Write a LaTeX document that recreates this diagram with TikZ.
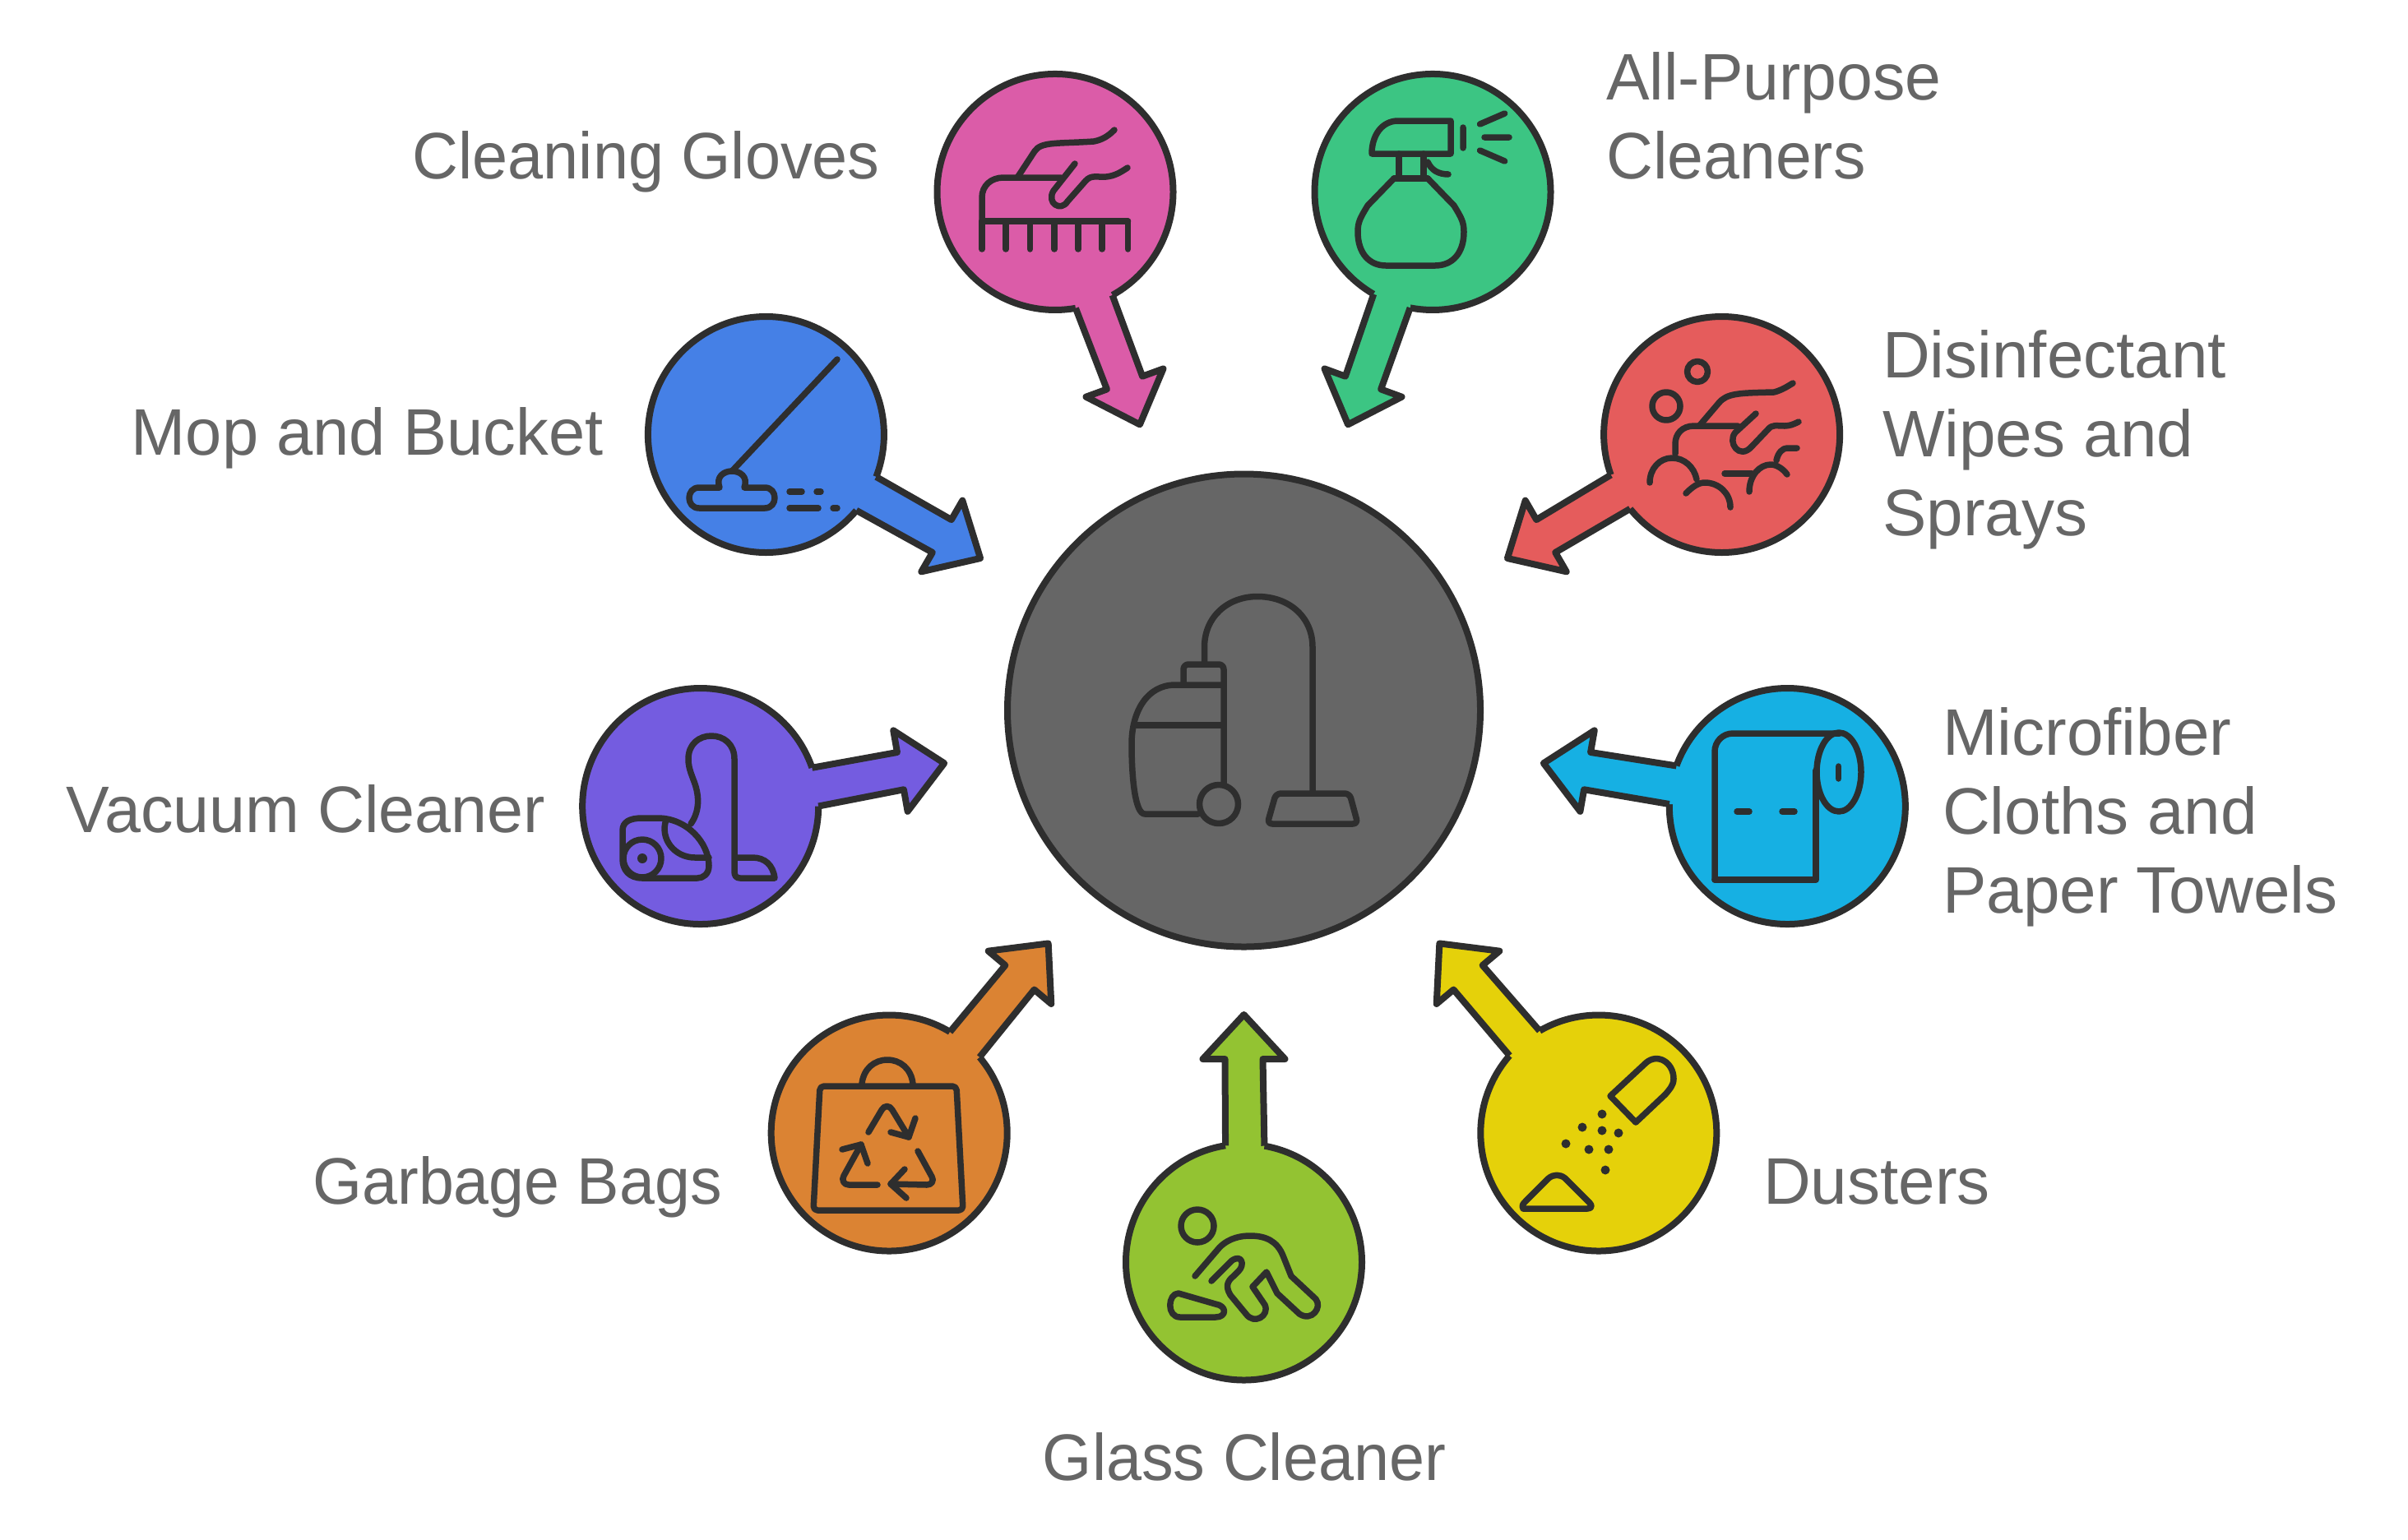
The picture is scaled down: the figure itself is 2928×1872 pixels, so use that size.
\documentclass[tikz,border=0pt]{standalone}
\usepackage{fontspec}
\setmainfont{Liberation Sans}
\definecolor{ink}{RGB}{46,46,46}
\definecolor{hubgray}{RGB}{102,102,102}
\definecolor{labelgray}{RGB}{102,102,102}
\definecolor{glovesfill}{RGB}{219,92,168}
\definecolor{cleanersfill}{RGB}{60,197,131}
\definecolor{wipesfill}{RGB}{229,92,92}
\definecolor{clothsfill}{RGB}{22,176,227}
\definecolor{dustersfill}{RGB}{229,209,10}
\definecolor{glassfill}{RGB}{147,195,50}
\definecolor{bagsfill}{RGB}{219,131,51}
\definecolor{vacuumfill}{RGB}{116,92,224}
\definecolor{mopfill}{RGB}{69,128,230}
\tikzset{
  spot/.style={circle,draw=ink,line width=8pt,minimum size=287pt,inner sep=0pt,outer sep=0pt},
  spokeline/.style={draw=ink,line width=8pt,line join=round},
  icon/.style={draw=ink,line width=7.5pt,line cap=round,line join=round},
  label/.style={text=labelgray,font=\fontsize{80}{96}\selectfont\addfontfeature{FakeStretch=#1},inner sep=0pt,align=left},
  label/.default=1
}
\newcommand{\spoke}[3]{%
  \pgfmathsetmacro{\spokeup}{#2+9.2}%
  \pgfmathsetmacro{\spokedn}{#2-9.2}%
  \begin{scope}[shift={(#1)},rotate=#2,y=1pt]
    \coordinate (#1Tip) at (301,0);
    \fill[#3] (#1.\spokeup) -- (247,23) -- (247,50) -- (#1Tip) -- (247,-50) -- (247,-23) -- (#1.\spokedn) -- (#1.center) -- cycle;
    \draw[spokeline] (#1.\spokeup) -- (247,23) -- (247,50) -- (#1Tip) -- (247,-50) -- (247,-23) -- (#1.\spokedn);
  \end{scope}}
\begin{document}
\begin{tikzpicture}[x=1pt,y=-1pt]
    \useasboundingbox (0,0) rectangle (2928,1872);
    \node [spot,fill=hubgray,minimum size=575pt] (hub) at (1512.5,864) {};

    \node [spot,fill=glovesfill] (gloves) at ([shift={(110:671pt)}]hub) {};
    \node [spot,fill=cleanersfill] (cleaners) at ([shift={(70:671pt)}]hub) {};
    \node [spot,fill=wipesfill] (wipes) at ([shift={(30:671pt)}]hub) {};
    \node [spot,fill=clothsfill] (cloths) at ([shift={(350:671pt)}]hub) {};
    \node [spot,fill=dustersfill] (dusters) at ([shift={(310:671pt)}]hub) {};
    \node [spot,fill=glassfill] (glass) at ([shift={(270:671pt)}]hub) {};
    \node [spot,fill=bagsfill] (bags) at ([shift={(230:671pt)}]hub) {};
    \node [spot,fill=vacuumfill] (vacuum) at ([shift={(190:671pt)}]hub) {};
    \node [spot,fill=mopfill] (mop) at ([shift={(150:671pt)}]hub) {};

    \spoke{gloves}{290}{glovesfill}
    \spoke{cleaners}{250}{cleanersfill}
    \spoke{wipes}{210}{wipesfill}
    \spoke{cloths}{170}{clothsfill}
    \spoke{dusters}{130}{dustersfill}
    \spoke{glass}{90}{glassfill}
    \spoke{bags}{50}{bagsfill}
    \spoke{vacuum}{10}{vacuumfill}
    \spoke{mop}{330}{mopfill}

    \node [label=0.968,anchor=base east] (glovesText) at (1070,217) {Cleaning Gloves};
    \node [label=0.985,anchor=west] (cleanersText) at (1953,141) {All-Purpose\\Cleaners};
    \node [label,anchor=west] (wipesText) at (2289,534.5) {Disinfectant\\Wipes and\\Sprays};
    \node [label,anchor=west] (clothsText) at (2362,993.5) {Microfiber\\Cloths and\\Paper Towels};
    \node [label,anchor=base west] (dustersText) at (2144,1464) {Dusters};
    \node [label=0.967,anchor=base] (glassText) at (1513,1800) {Glass Cleaner};
    \node [label=0.964,anchor=base east] (bagsText) at (878,1464) {Garbage Bags};
    \node [label=0.987,anchor=base east] (vacuumText) at (663,1012) {Vacuum Cleaner};
    \node [label=0.993,anchor=base east] (mopText) at (734,553) {Mop and Bucket};

    \draw [icon] (1464.5,808) -- (1464.5,787) .. controls (1464.5,750) and (1493,725.5) .. (1529,725.5) .. controls (1567,725.5) and (1596,750) .. (1596,787) -- (1596,965);
    \draw [icon,rounded corners=6pt] (1439,833) -- (1439,808) -- (1488,808) -- (1488,953);
    \draw [icon] (1488,833) -- (1429,833) .. controls (1395,833) and (1376,865) .. (1376,905) .. controls (1376,945) and (1380,990) .. (1392,990) -- (1457,990);
    \draw [icon] (1382,882) -- (1488,882);
    \draw [icon] (1482,978) circle [radius=23.5pt];
    \draw [icon,rounded corners=6pt] (1551.5,965) -- (1641,965) -- (1651,1002) -- (1541,1002) -- cycle;

    \draw [icon] (1194,269) -- (1371.5,269);
    \draw [icon] (1194,269) -- (1194,303) (1223,269) -- (1223,303) (1252.5,269) -- (1252.5,303) (1282,269) -- (1282,303) (1311,269) -- (1311,303) (1340,269) -- (1340,303) (1371.5,269) -- (1371.5,303);
    \draw [icon] (1194,269) -- (1194,240) .. controls (1194,226) and (1205,216) .. (1220,216) -- (1290,216);
    \draw [icon] (1237,216) -- (1258,184) .. controls (1266,172) and (1285,175) .. (1330,172) .. controls (1340,170) and (1347,166) .. (1355,158);
    \draw [icon] (1307,199) -- (1281,232) .. controls (1272,247) and (1290,258) .. (1298,245) -- (1320,220) .. controls (1327,212) and (1335,216) .. (1345,215) .. controls (1355,214) and (1362,210) .. (1371,204);

    \draw [icon] (1668,187) .. controls (1668,165) and (1680,147) .. (1700,147) -- (1764,147) -- (1764,187) -- cycle;
    \draw [icon] (1701,187) -- (1701,217) (1731,187) -- (1731,217) (1695,217) -- (1736,217);
    \draw [icon] (1736,197) .. controls (1740,206) and (1748,212) .. (1761,212);
    \draw [icon] (1695,217) -- (1663,250) .. controls (1654,265) and (1651,270) .. (1651,282) .. controls (1651,308) and (1665,323) .. (1685,323) -- (1745,323) .. controls (1766,323) and (1780,308) .. (1780,282) .. controls (1780,270) and (1777,265) .. (1768,250) -- (1736,217);
    \draw [icon] (1779,155) -- (1779,180) (1799.5,151) -- (1829.6,138) (1805,167) -- (1835,167) (1799.5,183) -- (1829.6,196);

    \draw [icon] (2026,494) circle [radius=17pt];
    \draw [icon] (2064,452) circle [radius=12.5pt];
    \draw [icon] (2067,517) -- (2090,490) .. controls (2100,478) and (2115,478) .. (2157,477) .. controls (2165,475) and (2172,471) .. (2180,466);
    \draw [icon] (2037,552) -- (2037,540) .. controls (2037,528) and (2045,518) .. (2060,518) -- (2113,518);
    \draw [icon] (2135,503) -- (2110,526) .. controls (2100,538) and (2115,560) .. (2130,543) -- (2150,522) .. controls (2155,516) and (2160,518) .. (2170,518) .. controls (2176,518) and (2181,516) .. (2187,513);
    \draw [icon] (2006,587) .. controls (2006,570) and (2018,557) .. (2033,557) .. controls (2048,557) and (2060,568) .. (2063,583);
    \draw [icon] (2050,600) .. controls (2058,592) and (2065,587) .. (2073,587) .. controls (2090,587) and (2104,600) .. (2104,617);
    \draw [icon] (2097,576) -- (2130,576);
    \draw [icon] (2127,598) .. controls (2127,578) and (2140,565) .. (2153,565) .. controls (2160,565) and (2168,570) .. (2173,577);
    \draw [icon] (2160,560) .. controls (2162,550) and (2168,545) .. (2173,545) -- (2185,545);

    \draw [icon,rounded corners=22pt] (2085,1070) -- (2085,892) -- (2237,892);
    \draw [icon] (2085,1070) -- (2208,1070) -- (2208,937);
    \draw [icon] (2236,939) ellipse [x radius=27pt,y radius=48pt];
    \draw [icon] (2235.7,932) -- (2235.7,947) (2112,987) -- (2127,987) (2167,987) -- (2182,987);

    \draw [icon] (1958,1333) -- (2001,1293) .. controls (2015,1280) and (2035,1292) .. (2035,1312) .. controls (2035,1320) and (2030,1325) .. (2025,1331) -- (1989,1365) -- cycle;
    \draw [icon] (1852,1470) .. controls (1850,1466) and (1852,1464) .. (1855,1461) -- (1883,1433) .. controls (1889,1428) and (1897,1428) .. (1903,1433) -- (1933,1463) .. controls (1936,1466) and (1936,1470) .. (1930,1470) -- cycle;
    \fill [ink] (1948,1355) circle [radius=5.5pt] (1924,1371) circle [radius=5.5pt] (1948,1375) circle [radius=5.5pt] (1968,1378) circle [radius=5.5pt] (1904,1391) circle [radius=5.5pt] (1932,1398) circle [radius=5.5pt] (1956,1398) circle [radius=5.5pt] (1952,1423) circle [radius=5.5pt];

    \draw [icon] (1456,1491) circle [radius=20pt];
    \draw [icon] (1453,1552) -- (1483,1517) .. controls (1495,1505) and (1510,1503) .. (1520,1503) .. controls (1540,1503) and (1553,1510) .. (1560,1527) -- (1570,1552) -- (1600,1580) .. controls (1608,1590) and (1595,1608) .. (1580,1598) -- (1553,1573) -- (1540,1547) -- (1523,1565) -- (1538,1587) .. controls (1544,1600) and (1525,1612) .. (1515,1598) -- (1496,1575) .. controls (1490,1565) and (1492,1558) .. (1500,1552) -- (1506,1546) .. controls (1514,1538) and (1510,1525) .. (1498,1533) -- (1473,1558);
    \draw [icon] (1433,1573) .. controls (1420,1573) and (1418,1602) .. (1435,1602) -- (1478,1602) .. controls (1492,1602) and (1492,1588) .. (1478,1586) -- cycle;

    \draw [icon,rounded corners=5pt] (997,1321) -- (1163,1321) -- (1171,1472) -- (989,1472) -- cycle;
    \draw [icon] (1048,1318) .. controls (1050,1300) and (1063,1289) .. (1079,1289) .. controls (1095,1289) and (1108,1300) .. (1110,1318);
    \draw [icon] (1056,1377) -- (1072,1350) .. controls (1075,1344) and (1082,1344) .. (1085,1350) -- (1105,1383);
    \draw [icon] (1113,1360) -- (1105,1383) -- (1083,1377);
    \draw [icon] (1067,1441) -- (1032,1441) .. controls (1026,1441) and (1023,1435) .. (1026,1430) -- (1047,1392);
    \draw [icon] (1024,1398) -- (1047,1392) -- (1055,1415);
    \draw [icon] (1116,1400) -- (1133,1431) .. controls (1136,1436) and (1133,1441) .. (1127,1441) -- (1083,1440);
    \draw [icon] (1100,1422) -- (1083,1440) -- (1102,1457);

    \draw [icon] (840,1002) .. controls (852,985) and (850,965) .. (843,948) .. controls (838,935) and (837,930) .. (837,923) .. controls (837,905) and (850,895) .. (865,895) .. controls (880,895) and (893,905) .. (893,923) -- (893,1060) .. controls (893,1065) and (895,1068) .. (900,1068) -- (942,1068) .. controls (940,1052) and (930,1043) .. (915,1043) -- (893,1043);
    \draw [icon] (781,995) -- (800,995) .. controls (835,995) and (862,1025) .. (862,1053) .. controls (862,1063) and (855,1068) .. (848,1068) -- (781,1068) .. controls (765,1068) and (757,1058) .. (757,1045) -- (757,1010) .. controls (757,1000) and (765,995) .. (781,995);
    \draw [icon] (810,997) .. controls (802,1020) and (820,1043) .. (845,1043) -- (862,1043);
    \draw [icon] (781,1044) circle [radius=23pt];
    \fill [ink] (781,1044) circle [radius=6pt];

    \draw [icon] (1018,437) -- (890,573);
    \draw [icon] (875,593) .. controls (870,580) and (880,573) .. (890,573) .. controls (900,573) and (910,580) .. (905,593) -- (930,593) .. controls (946,593) and (946,618) .. (930,618) -- (850,618) .. controls (834,618) and (834,593) .. (850,593) -- cycle;
    \draw [icon] (960,598) -- (975,598) (993,598) -- (998,598) (960,618) -- (995,618) (1013,618) -- (1018,618);
\end{tikzpicture}
\end{document}
